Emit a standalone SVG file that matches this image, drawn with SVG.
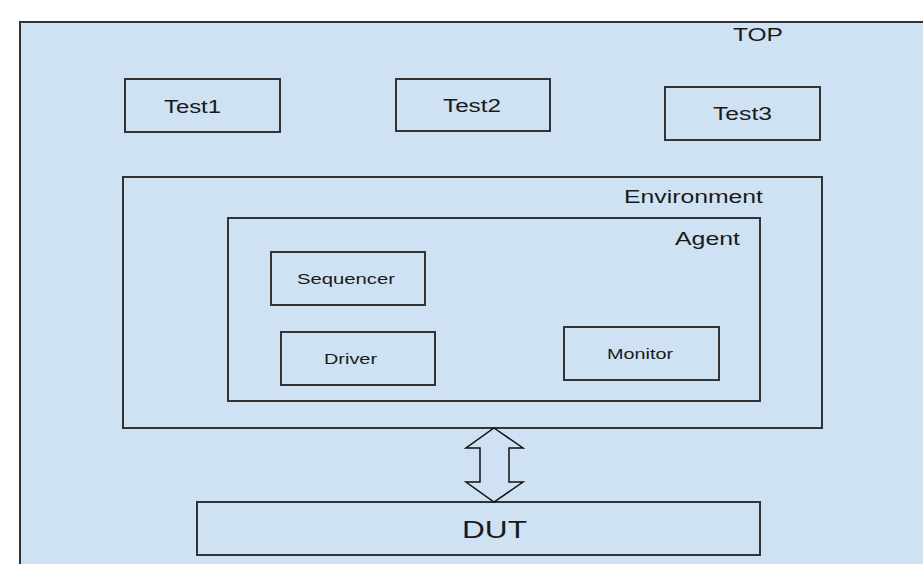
<svg xmlns="http://www.w3.org/2000/svg" width="923" height="564" viewBox="0 0 923 564">
  <style>
    .box { fill: #cfe2f3; stroke: #333333; stroke-width: 2; }
    .lbl { font-family: "Liberation Sans", Arial, sans-serif; fill: #1a1a1a; }
    .arrow { fill: #cfe2f3; stroke: #111111; stroke-width: 1.5; stroke-linejoin: miter; }
  </style>
  <rect x="0" y="0" width="923" height="564" fill="#ffffff"/>

  <!-- outer testbench container -->
  <g id="top">
    <rect class="box" x="20" y="22" width="920" height="560"/>
    <text class="lbl" x="733" y="41" font-size="18" textLength="50" lengthAdjust="spacingAndGlyphs">TOP</text>
  </g>

  <g id="test1">
    <rect class="box" x="125" y="79" width="155" height="53"/>
    <text class="lbl" x="164" y="113" font-size="18" textLength="57" lengthAdjust="spacingAndGlyphs">Test1</text>
  </g>
  <g id="test2">
    <rect class="box" x="396" y="79" width="154" height="52"/>
    <text class="lbl" x="443" y="112" font-size="18" textLength="58" lengthAdjust="spacingAndGlyphs">Test2</text>
  </g>
  <g id="test3">
    <rect class="box" x="665" y="87" width="155" height="53"/>
    <text class="lbl" x="713" y="120" font-size="18" textLength="59" lengthAdjust="spacingAndGlyphs">Test3</text>
  </g>

  <g id="environment">
    <rect class="box" x="123" y="177" width="699" height="251"/>
    <text class="lbl" x="624" y="203" font-size="18" textLength="139" lengthAdjust="spacingAndGlyphs">Environment</text>
  </g>

  <g id="agent">
    <rect class="box" x="228" y="218" width="532" height="183"/>
    <text class="lbl" x="675" y="245" font-size="18" textLength="65" lengthAdjust="spacingAndGlyphs">Agent</text>
  </g>

  <g id="sequencer">
    <rect class="box" x="271" y="252" width="154" height="53"/>
    <text class="lbl" x="297" y="284" font-size="15" textLength="98" lengthAdjust="spacingAndGlyphs">Sequencer</text>
  </g>

  <g id="driver">
    <rect class="box" x="281" y="332" width="154" height="53"/>
    <text class="lbl" x="324" y="364" font-size="15" textLength="53" lengthAdjust="spacingAndGlyphs">Driver</text>
  </g>

  <g id="monitor">
    <rect class="box" x="564" y="327" width="155" height="53"/>
    <text class="lbl" x="607" y="359" font-size="15" textLength="66" lengthAdjust="spacingAndGlyphs">Monitor</text>
  </g>

  <g id="dut">
    <rect class="box" x="197" y="502" width="563" height="53"/>
    <text class="lbl" x="462" y="538" font-size="24" textLength="65" lengthAdjust="spacingAndGlyphs">DUT</text>
  </g>

  <!-- bidirectional link between environment and DUT -->
  <g id="connectors">
    <path class="arrow" d="M494,428 L523,448 L509,448 L509,482 L523,482 L494,502 L466,482 L480,482 L480,448 L466,448 Z"/>
  </g>
</svg>
